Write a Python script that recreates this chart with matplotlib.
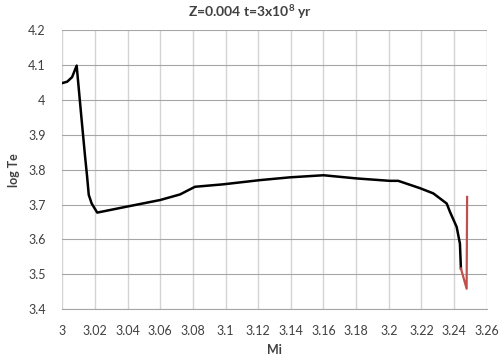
import matplotlib
matplotlib.use("Agg")
import matplotlib.pyplot as plt

mi = [3.0, 3.003, 3.006, 3.0088, 3.0115, 3.0139, 3.0152, 3.0162, 3.018, 3.0214, 3.0394, 3.0599,
      3.0721, 3.0813, 3.0986, 3.121, 3.1394, 3.16, 3.18, 3.2006, 3.2058,
      3.2191, 3.2273, 3.2355, 3.2375, 3.2416, 3.2436, 3.2442]
logte = [4.048, 4.052, 4.065, 4.098, 3.96, 3.84, 3.78, 3.728, 3.703, 3.677, 3.694, 3.713,
         3.729, 3.751, 3.758, 3.770, 3.778, 3.784, 3.775, 3.768, 3.768,
         3.747, 3.732, 3.703, 3.679, 3.636, 3.588, 3.517]
red_mi = [3.2442, 3.2477, 3.2480]
red_te = [3.517, 3.459, 3.722]

plt.rcParams['font.family'] = ['Lato', 'DejaVu Sans']
plt.rcParams['mathtext.fontset'] = 'custom'
plt.rcParams['mathtext.rm'] = 'Lato:bold'
plt.rcParams['mathtext.bf'] = 'Lato:bold'
plt.rcParams['mathtext.default'] = 'bf'
fig = plt.figure(figsize=(5, 3.59), dpi=100)
ax = fig.add_axes([0.1246, 0.1384, 0.9734 - 0.1246, 0.9164 - 0.1384])
ax.plot(mi, logte, color='black', lw=1.8, solid_joinstyle='round')
ax.plot(red_mi, red_te, color='#c0504d', lw=1.6)
ax.set_xlim(3.0, 3.26)
ax.set_ylim(3.4, 4.2)
ax.set_xticks([3 + 0.02 * i for i in range(14)])
ax.set_xticklabels(['3', '3.02', '3.04', '3.06', '3.08', '3.1', '3.12', '3.14', '3.16',
                    '3.18', '3.2', '3.22', '3.24', '3.26'])
ax.set_yticks([3.4 + 0.1 * i for i in range(9)])
ax.set_yticklabels(['3.4', '3.5', '3.6', '3.7', '3.8', '3.9', '4', '4.1', '4.2'])
ax.xaxis.grid(True, color='#d4d4d4', lw=1.0)
ax.yaxis.grid(True, color='#a6a6a6', lw=0.8)
ax.set_axisbelow(True)
for s in ['top', 'right', 'left']:
    ax.spines[s].set_visible(False)
ax.spines['bottom'].set_color('#a6a6a6')
ax.tick_params(length=0, labelsize=9, colors='#404040')
ax.tick_params(axis='x', pad=11)
ax.tick_params(axis='y', pad=12)
ax.set_xlabel('Mi', fontsize=9, fontweight='bold', color='#404040', labelpad=5)
ax.set_ylabel('log Te', fontsize=9, fontweight='bold', color='#404040', labelpad=6)
fig.suptitle('Z=0.004 t=3x10$^{8}$ yr', fontsize=10, fontweight='bold', color='#404040', y=0.99)
fig.savefig('out.png', dpi=100)
